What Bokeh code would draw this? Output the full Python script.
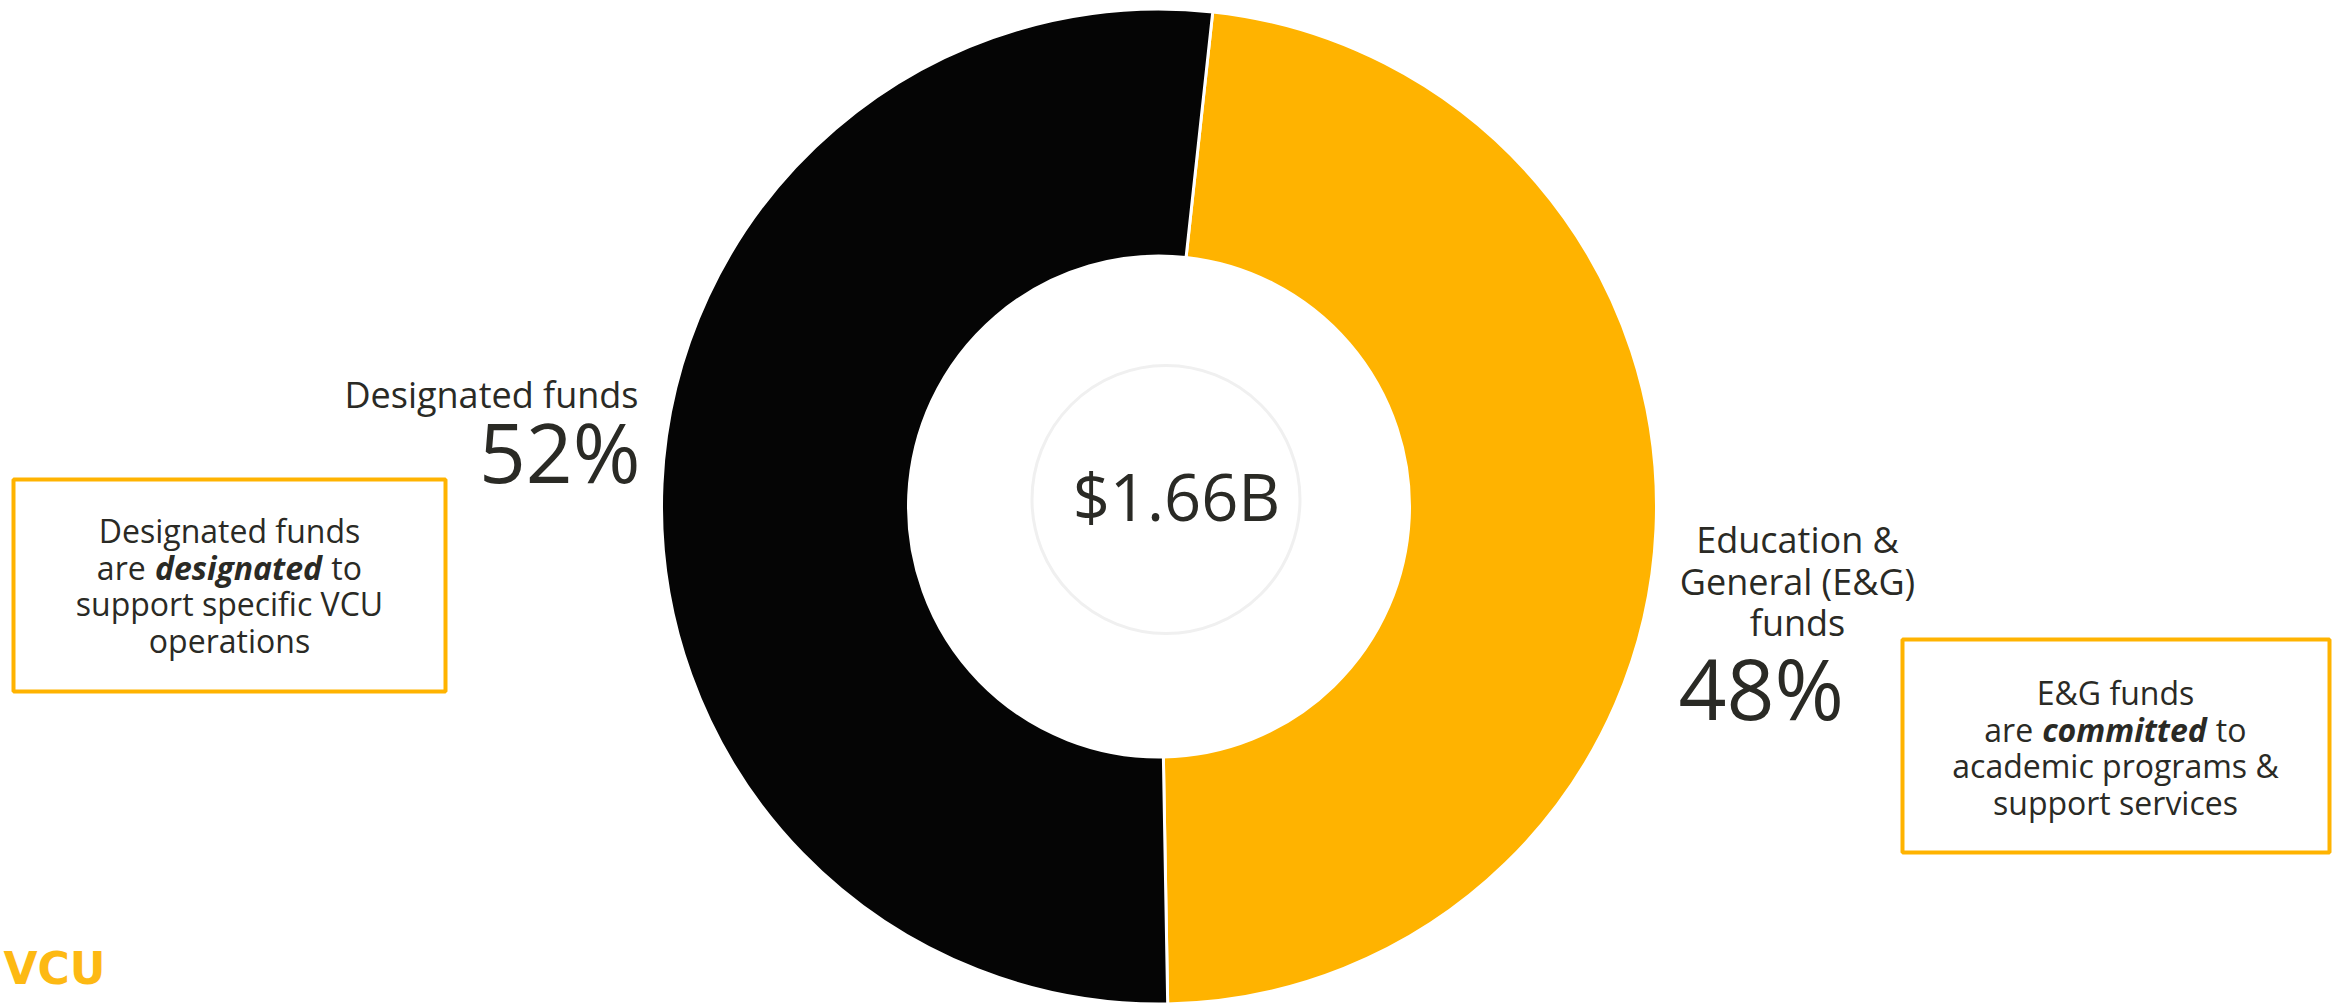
from bokeh.plotting import figure
from bokeh.models import Range1d
from bokeh.embed import file_html
from bokeh.resources import INLINE
from bokeh.core.properties import value
import numpy as np

# ---------------- data ----------------
categories = ["Education & General (E&G) funds", "Designated funds"]
shares = [48, 52]
pct_labels = ["48%", "52%"]
seg_colors = ["#FFB300", "#050505"]
label_lines = [["Education &", "General (E&G)", "funds"], ["Designated funds"]]
total_label = "$1.66B"
note_left = ["Designated funds", ("are ", "designated", " to"), "support specific VCU", "operations"]
note_right = ["E&G funds", ("are ", "committed", " to"), "academic programs &", "support services"]
logo_text = "VCU"

# ---------------- layout ----------------
W, H = 2341, 1003
FONT = "Open Sans"
TXT = "#2a2a25"
GOLD = "#FFB300"


def X(x):
    return x


def Y(y):
    return H - y


p = figure(width=W, height=H, x_range=Range1d(0, W), y_range=Range1d(0, H),
           output_backend="svg", toolbar_location=None, min_border=0)
p.axis.visible = False
p.grid.visible = False
p.outline_line_color = None
p.background_fill_color = "white"
p.border_fill_color = "white"

# donut
cx, cy = X(1158.5), Y(506)
start_offset = 6.2
fr = np.array(shares, dtype=float) / sum(shares)
cum = np.concatenate([[0.0], np.cumsum(fr)])
start = np.radians(90 - start_offset - 360 * cum[:-1])
end = np.radians(90 - start_offset - 360 * cum[1:])
p.annular_wedge(x=cx, y=cy, inner_radius=250.5, outer_radius=497.5,
                start_angle=list(start), end_angle=list(end), direction="clock",
                fill_color=seg_colors, line_color="white", line_width=3)

# inner ring + total
p.circle(x=X(1165.5), y=Y(499), radius=134, fill_color=None,
         line_color="#F0F0F0", line_width=3)
p.text(x=[X(1176)], y=[Y(495)], text=[total_label], text_font=value(FONT),
       text_font_size="65px", text_align="center", text_baseline="alphabetic",
       text_color=TXT)

# left label (Designated)
p.text(x=[X(638)], y=[Y(394)], text=label_lines[1], text_font=value(FONT),
       text_font_size="36px", text_align="right", text_baseline="alphabetic",
       text_color=TXT)
p.text(x=[X(640)], y=[Y(450)], text=[pct_labels[1]], text_font=value(FONT),
       text_font_size="82px", text_align="right", text_baseline="alphabetic",
       text_color=TXT)

# right label (E&G)
p.text(x=[X(1797)] * 3, y=[Y(539), Y(580.5), Y(622)], text=label_lines[0],
       text_font=value(FONT), text_font_size="36px", text_align="center",
       text_baseline="alphabetic", text_color=TXT)
p.text(x=[X(1678)], y=[Y(687)], text=[pct_labels[0]], text_font=value(FONT),
       text_font_size="84px", text_align="left", text_baseline="alphabetic",
       text_color=TXT)

# note boxes
p.quad(left=[X(13), X(1902)], right=[X(445), X(2329)], top=[Y(479), Y(639)],
       bottom=[Y(691), Y(852)], fill_color=None, line_color=GOLD, line_width=4)

EM = {"are ": 1.785, " to": 1.223, "designated": 5.28, "committed": 5.19}


def note(lines, cxr, base0, step, fs):
    for i, ln in enumerate(lines):
        yb = Y(base0 + i * step)
        if isinstance(ln, tuple):
            a, b, c = ln
            tot = (EM[a] + EM[b] + EM[c]) * fs
            left = X(cxr) - tot / 2
            bl = left + EM[a] * fs
            br = bl + EM[b] * fs
            p.text(x=[bl], y=[yb], text=[a.strip()], text_font=value(FONT),
                   text_font_size=f"{fs}px", text_align="right", x_offset=-0.26 * fs,
                   text_baseline="alphabetic", text_color=TXT)
            p.text(x=[(bl + br) / 2], y=[yb], text=[b], text_font=value(FONT),
                   text_font_size=f"{fs}px", text_align="center", text_font_style="bold italic",
                   text_baseline="alphabetic", text_color=TXT)
            p.text(x=[br], y=[yb], text=[c.strip()], text_font=value(FONT),
                   text_font_size=f"{fs}px", text_align="left", x_offset=0.26 * fs,
                   text_baseline="alphabetic", text_color=TXT)
        else:
            p.text(x=[X(cxr)], y=[yb], text=[ln], text_font=value(FONT),
                   text_font_size=f"{fs}px", text_align="center",
                   text_baseline="alphabetic", text_color=TXT)


note(note_left, 229, 530, 36.5, 32)
note(note_right, 2115, 692, 36.5, 32)

# logo
p.text(x=[X(3)], y=[Y(968)], text=[logo_text], text_font=value("DejaVu Sans"),
       text_font_size="44px", text_font_style="bold", text_align="left",
       text_baseline="alphabetic", text_color="#FDB913")

open("out.html", "w").write(file_html(p, INLINE))
